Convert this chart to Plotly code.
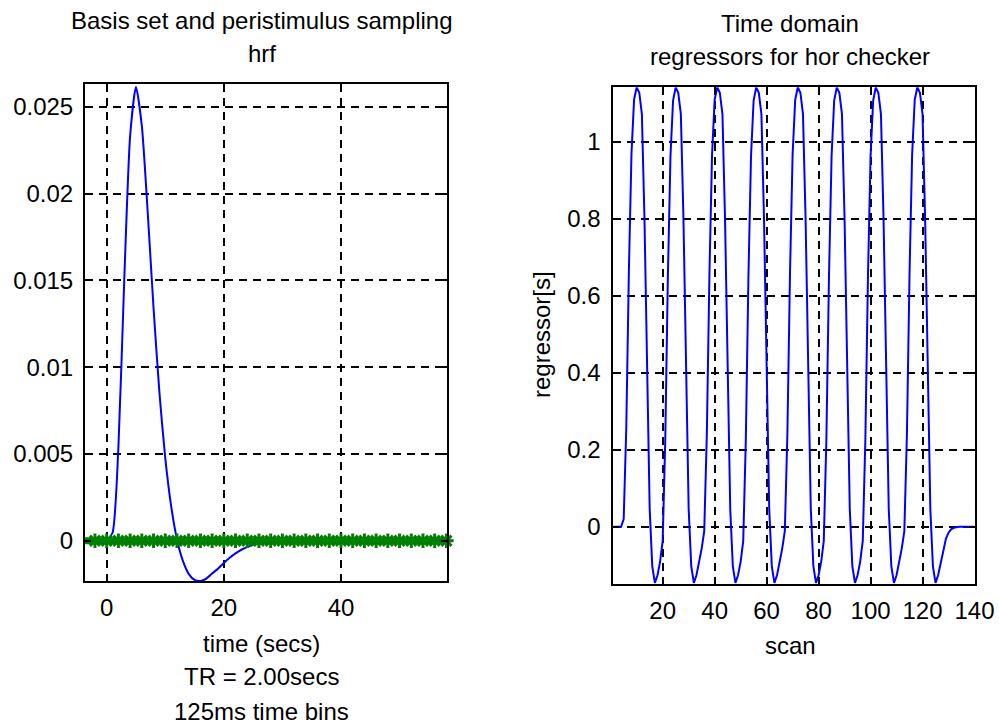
import plotly.graph_objects as go

W, H = 999, 724

# ---------------- data ----------------
hrf_time = [0, 1, 2, 3, 4, 5, 6, 7, 8, 9, 10, 11, 12, 13, 14, 15, 16,
            17, 18, 19, 20, 21, 22, 23, 24, 25, 26, 27, 28, 29, 30, 31, 32]
hrf_value = [0, 0.00046, 0.00538, 0.01502, 0.02329, 0.02614, 0.02391, 0.01895,
             0.01342, 0.00856, 0.00477, 0.00201, 0.00009, -0.00115, -0.00191,
             -0.00226, -0.00232, -0.00218, -0.00189, -0.00161, -0.00128, -0.00098,
             -0.00073, -0.00052, -0.00036, -0.00024, -0.00016, -0.00010, -0.00007,
             -0.00004, -0.00002, -0.00001, 0]

sample_times = [-4, -2, 0, 2, 4, 6, 8, 10, 12, 14, 16, 18, 20, 22, 24, 26, 28,
                30, 32, 34, 36, 38, 40, 42, 44, 46, 48, 50, 52, 54, 56, 58]
sample_values = [0] * len(sample_times)

scans = list(range(1, 141))
regressor = [
    0, 0, 0, 0, 0.0199, 0.2579, 0.6651, 0.9690, 1.1098, 1.1415,
    1.1273, 1.0717, 0.7990, 0.3662, 0.0465, -0.1029, -0.1460, -0.1262, -0.0912, -0.0369,
    0.2266, 0.6496, 0.9621, 1.1069, 1.1410, 1.1269, 1.0716, 0.7990, 0.3662, 0.0465,
    -0.1029, -0.1460, -0.1262, -0.0912, -0.0568, -0.0114, 0.2424, 0.6582, 0.9661, 1.1087,
    1.1415, 1.1272, 1.0717, 0.7990, 0.3662, 0.0465, -0.1029, -0.1460, -0.1262, -0.0912,
    -0.0369, 0.2266, 0.6496, 0.9621, 1.1069, 1.1410, 1.1269, 1.0716, 0.7990, 0.3662,
    0.0465, -0.1029, -0.1460, -0.1262, -0.0912, -0.0568, -0.0114, 0.2424, 0.6582, 0.9661,
    1.1087, 1.1415, 1.1272, 1.0717, 0.7990, 0.3662, 0.0465, -0.1029, -0.1460, -0.1262,
    -0.0912, -0.0369, 0.2266, 0.6496, 0.9621, 1.1069, 1.1410, 1.1269, 1.0716, 0.7990,
    0.3662, 0.0465, -0.1029, -0.1460, -0.1262, -0.0912, -0.0369, 0.2266, 0.6496, 0.9621,
    1.1069, 1.1410, 1.1269, 1.0716, 0.7990, 0.3662, 0.0465, -0.1029, -0.1460, -0.1262,
    -0.0912, -0.0568, -0.0114, 0.2424, 0.6582, 0.9661, 1.1087, 1.1415, 1.1272, 1.0717,
    0.7990, 0.3662, 0.0465, -0.1029, -0.1460, -0.1262, -0.0912, -0.0568, -0.0313, -0.0155,
    -0.0069, -0.0029, -0.0011, -0.0004, -0.0001, 0, 0, 0, 0, 0,
]

left_xticks = [0, 20, 40]
left_yticks = [0, 0.005, 0.01, 0.015, 0.02, 0.025]
left_yticktext = ["0", "0.005", "0.01", "0.015", "0.02", "0.025"]
right_xticks = [20, 40, 60, 80, 100, 120, 140]
right_yticks = [0, 0.2, 0.4, 0.6, 0.8, 1]
right_yticktext = ["0", "0.2", "0.4", "0.6", "0.8", "1"]

FONT = "Arial, Liberation Sans, sans-serif"
FS = 24

# ---------------- figure ----------------
fig = go.Figure()

fig.add_trace(go.Scatter(
    x=hrf_time, y=hrf_value, mode="lines",
    line=dict(color="#0000ff", width=2, shape="spline", smoothing=0.6),
    xaxis="x", yaxis="y", showlegend=False, hoverinfo="skip"))

fig.add_trace(go.Scatter(
    x=sample_times, y=sample_values, mode="lines+markers",
    line=dict(color="#008000", width=7),
    marker=dict(symbol="asterisk-open", size=12, color="#008000",
                line=dict(color="#008000", width=3)),
    cliponaxis=False,
    xaxis="x", yaxis="y", showlegend=False, hoverinfo="skip"))

fig.add_trace(go.Scatter(
    x=scans, y=regressor, mode="lines",
    line=dict(color="#0000ff", width=2),
    xaxis="x2", yaxis="y2", showlegend=False, hoverinfo="skip"))


def px_x(p):
    return p / W


def px_y(p):
    return 1 - p / H


axis_common = dict(
    showgrid=True, gridcolor="black", gridwidth=1.5, griddash="8px,6px",
    showline=True, linecolor="black", linewidth=2, mirror="ticks",
    ticks="inside", ticklen=6, tickwidth=1.5, tickcolor="black",
    zeroline=False, tickfont=dict(family=FONT, size=FS, color="black"),
    fixedrange=True, automargin=False,
)

fig.update_layout(
    width=W, height=H, autosize=False,
    margin=dict(l=0, r=0, t=0, b=0, pad=0, autoexpand=False),
    paper_bgcolor="white", plot_bgcolor="white",
    font=dict(family=FONT, size=FS, color="black"),
    xaxis=dict(domain=[px_x(85), px_x(447)], range=[-3.7, 58.1],
               tickmode="array", tickvals=left_xticks, anchor="y",
               ticklabelstandoff=4, **axis_common),
    yaxis=dict(domain=[px_y(581), px_y(84)], range=[-0.00232, 0.02631],
               tickmode="array", tickvals=left_yticks, ticktext=left_yticktext,
               anchor="x", ticklabelstandoff=5, **axis_common),
    xaxis2=dict(domain=[px_x(613.3), px_x(974.5)], range=[1, 140],
                tickmode="array", tickvals=right_xticks, anchor="y2",
                ticklabelstandoff=4, **axis_common),
    yaxis2=dict(domain=[px_y(584), px_y(87.3)], range=[-0.1488, 1.1413],
                tickmode="array", tickvals=right_yticks, ticktext=right_yticktext,
                anchor="x2", ticklabelstandoff=6, **axis_common),
)


def label(text, x, y, angle=0):
    fig.add_annotation(text=text, x=px_x(x), y=px_y(y), xref="paper", yref="paper",
                       xanchor="center", yanchor="middle", showarrow=False,
                       textangle=angle, font=dict(family=FONT, size=FS, color="black"))


label("Basis set and peristimulus sampling", 262, 20)
label("hrf", 262, 53)
label("time (secs)", 261, 643)
label("TR = 2.00secs", 261, 676)
label("125ms time bins", 261, 711)

label("Time domain", 790, 23)
label("regressors for hor checker", 790, 57)
label("scan", 790, 645)
label("regressor[s]", 541, 335, angle=-90)

fig.write_html(
    "out.html",
    config={"displayModeBar": False, "responsive": False},
    post_script="document.body.style.margin='0px';document.body.style.padding='0px';"
                "document.body.style.overflow='hidden';",
)
